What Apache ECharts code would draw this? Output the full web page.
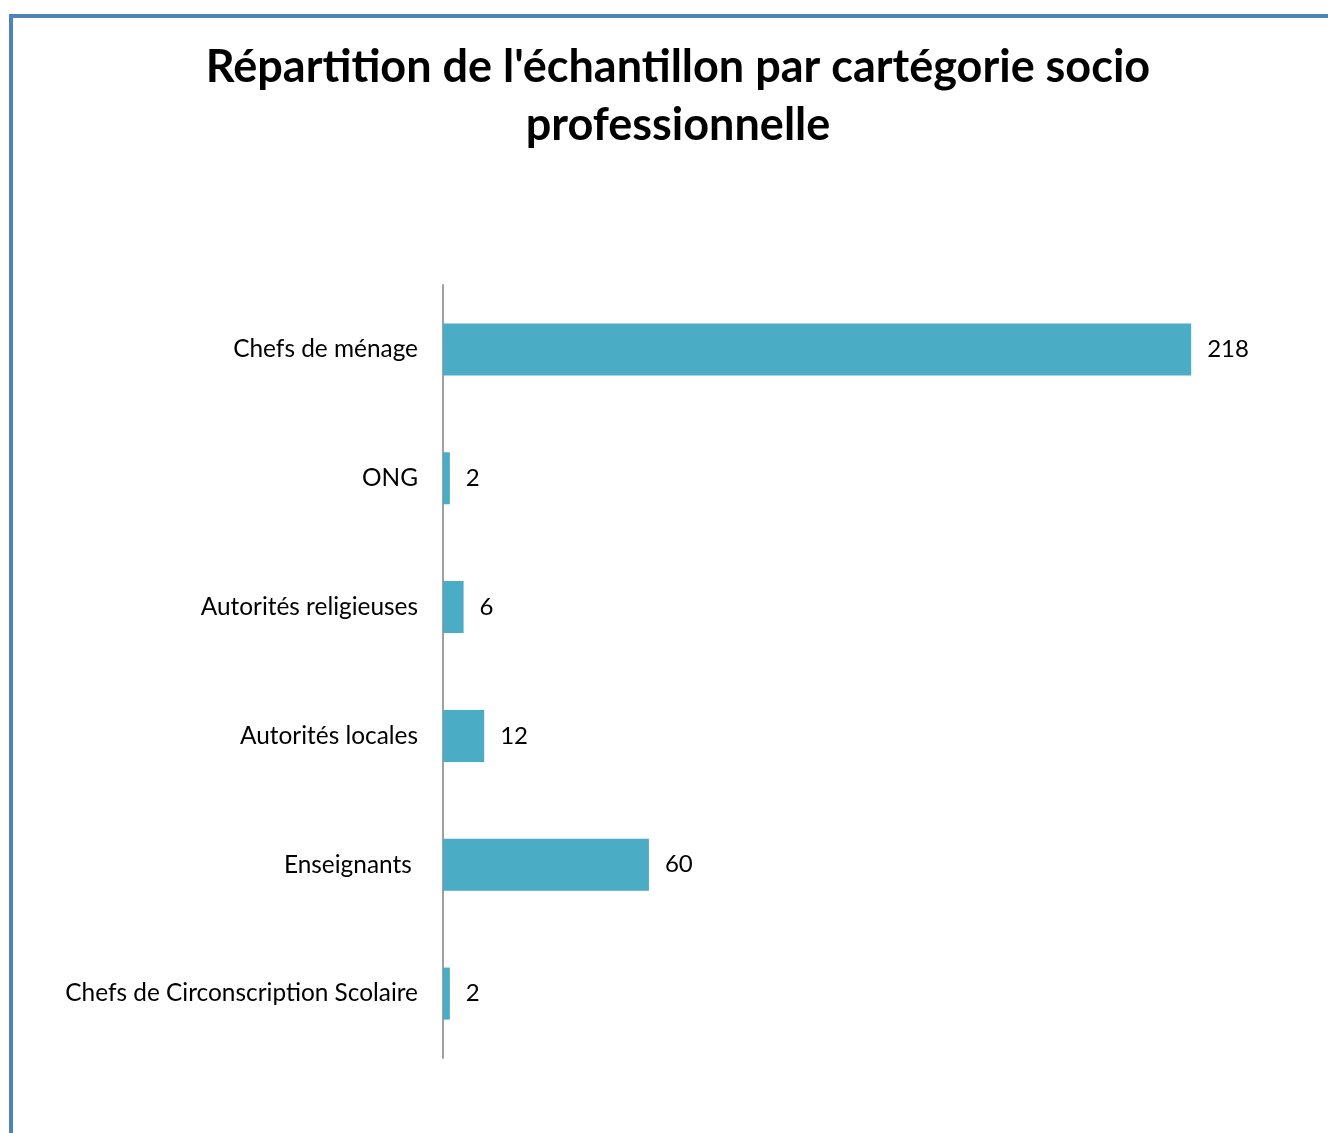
<!DOCTYPE html>
<html>
<head>
<meta charset="utf-8">
<script src="https://cdn.jsdelivr.net/npm/echarts@6/dist/echarts.min.js"></script>
<style>html,body{margin:0;padding:0;background:#fff;}#c{width:1328px;height:1133px;}</style>
</head>
<body>
<div id="c"></div>
<script>
const categories = ["Chefs de ménage", "ONG", "Autorités religieuses", "Autorités locales", "Enseignants ", "Chefs de Circonscription Scolaire"];
const values = [218, 2, 6, 12, 60, 2];
const titleText = "Répartition de l'échantillon par cartégorie socio\nprofessionnelle";

const chart = echarts.init(document.getElementById('c'));
chart.setOption({
  backgroundColor: '#ffffff',
  animation: false,
  title: {
    text: titleText,
    left: 673, top: 33, textAlign: 'center',
    textStyle: { fontFamily: 'Lato', fontWeight: 'bold', fontSize: 45, lineHeight: 58, color: '#000' }
  },
  graphic: [
    { type: 'rect', shape: { x: 9, y: 14, width: 1319, height: 4 }, style: { fill: '#4F81BD' } },
    { type: 'rect', shape: { x: 9, y: 14, width: 4, height: 1119 }, style: { fill: '#4F81BD' } }
  ],
  grid: { left: 443, right: 27, top: 285, bottom: 75, containLabel: false },
  xAxis: {
    type: 'value', min: 0, max: 250, show: false
  },
  yAxis: {
    type: 'category', data: categories, inverse: true,
    axisLine: { show: true, lineStyle: { color: '#a0a0a0', width: 2 } },
    axisTick: { show: false },
    axisLabel: { margin: 25, fontFamily: 'Lato', fontSize: 24.4, color: '#000' }
  },
  series: [{
    type: 'bar', data: values, barWidth: 52,
    itemStyle: { color: '#4BACC6' },
    label: { show: true, position: 'right', distance: 16, fontFamily: 'Lato', fontSize: 24, color: '#000' }
  }]
});
</script>
</body>
</html>
